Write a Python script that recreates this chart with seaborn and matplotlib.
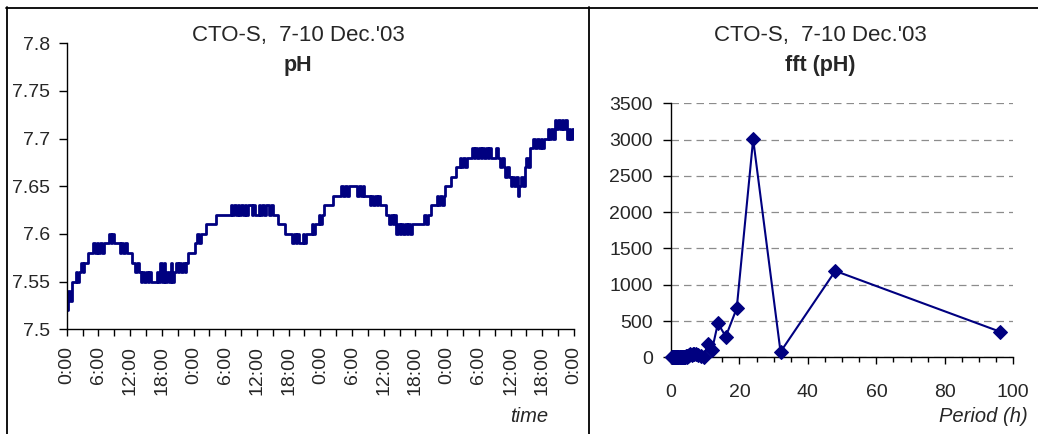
import numpy as np
import pandas as pd
import matplotlib
matplotlib.use("Agg")
import matplotlib.pyplot as plt
from matplotlib.lines import Line2D
from matplotlib.ticker import MultipleLocator, FuncFormatter
import seaborn as sns

# ---------------------------------------------------------------------------
# pH readings, every 20 minutes, in hundredths of a pH unit (752 -> 7.52)
# ---------------------------------------------------------------------------
ph_dec7 = [
    752, 754, 753, 755, 755, 756, 755, 756, 757, 756, 757, 757,
    758, 758, 758, 759, 758, 759, 758, 759, 758, 759, 759, 759,
    760, 759, 760, 759, 759, 759, 758, 759, 758, 759, 758, 758,
    758, 757, 757, 756, 757, 756, 755, 756, 755, 756, 755, 756,
    755, 755, 755, 756, 755, 757, 755, 757, 755, 756, 755, 757,
    755, 756, 757, 756, 757, 756, 757, 756, 757, 758, 758, 758,
]
ph_dec8 = [
    758, 759, 760, 759, 760, 760, 760, 761, 761, 761, 761, 761,
    761, 762, 762, 762, 762, 762, 762, 762, 762, 763, 762, 763,
    762, 763, 762, 763, 762, 763, 762, 763, 763, 762, 763, 762,
    762, 763, 762, 763, 762, 763, 763, 762, 763, 762, 762, 762,
    761, 761, 761, 761, 760, 760, 760, 760, 759, 760, 759, 760,
    759, 759, 760, 759, 760, 760, 760, 761, 760, 761, 761, 762,
]
ph_dec9 = [
    761, 762, 763, 763, 763, 763, 763, 764, 764, 764, 764, 764,
    765, 764, 765, 764, 765, 765, 765, 765, 765, 764, 765, 764,
    765, 764, 764, 764, 763, 764, 763, 764, 763, 764, 763, 763,
    763, 762, 762, 761, 762, 761, 762, 760, 761, 760, 761, 760,
    761, 760, 761, 760, 761, 761, 761, 761, 761, 761, 761, 762,
    761, 762, 762, 763, 763, 763, 764, 763, 764, 763, 764, 765,
]
ph_dec10 = [
    765, 765, 766, 766, 766, 767, 767, 768, 767, 768, 767, 768,
    768, 768, 769, 768, 769, 768, 769, 768, 769, 768, 769, 768,
    769, 768, 768, 768, 769, 768, 767, 768, 767, 766, 767, 766,
    765, 766, 765, 766, 764, 765, 766, 765, 767, 768, 767, 769,
    769, 770, 769, 770, 769, 770, 769, 770, 770, 771, 770, 771,
    770, 772, 771, 772, 771, 772, 771, 772, 770, 771, 770, 771,
]
ph_dec11 = [770]
sample_minutes = 20

time_tick_labels = ["0:00", "6:00", "12:00", "18:00"] * 4 + ["0:00"]
ph_tick_labels = ["7.5", "7.55", "7.6", "7.65", "7.7", "7.75", "7.8"]

# ---------------------------------------------------------------------------
# FFT of the pH record: amplitude against period (h)
# ---------------------------------------------------------------------------
fft_period_h = [96.0, 48.0, 32.0, 24.0, 19.2, 16.0, 13.71, 12.0, 10.67, 9.6,
                8.73, 8.0, 7.38, 6.86, 6.4, 6.0, 5.65, 5.33, 5.05, 4.8,
                4.57, 4.36, 4.17, 4.0, 3.84, 3.69, 3.56, 3.43, 3.31, 3.2,
                3.0, 2.82, 2.67, 2.53, 2.4, 2.18, 2.0, 1.85, 1.71, 1.6,
                1.45, 1.33, 1.2, 1.07, 0.96, 0.83, 0.71, 0.6, 0.48, 0.37, 0.25]
fft_power = [355, 1190, 75, 3005, 675, 285, 470, 105, 180, 8,
             15, 30, 45, 50, 40, 35, 45, 25, 20, 15,
             10, 12, 8, 10, 6, 5, 8, 4, 5, 3,
             4, 3, 2, 3, 2, 2, 1, 2, 1, 1,
             1, 1, 1, 1, 1, 1, 0, 0, 0, 0, 0]

title_line = "CTO-S,  7-10 Dec.'03"
navy = "#000080"

# ---------------------------------------------------------------------------
sns.set_theme(style="white")
plt.rcParams["font.family"] = ["Liberation Sans", "DejaVu Sans"]

W, H = 1038, 434
fig = plt.figure(figsize=(W / 100, H / 100), dpi=100)


def fx(px):
    return px / W


def fy(py):
    return 1 - py / H


ph_values = np.array(ph_dec7 + ph_dec8 + ph_dec9 + ph_dec10 + ph_dec11) / 100.0
hours = np.arange(len(ph_values)) * sample_minutes / 60.0
ph_df = pd.DataFrame({"hours": hours, "pH": ph_values})

fft_df = pd.DataFrame({"period": fft_period_h, "power": fft_power})

# ---- left panel: pH time series ----
ax1 = fig.add_axes([fx(66.7), fy(329.3), fx(574.0) - fx(66.7), fy(43.3) - fy(329.3)])
sns.lineplot(data=ph_df, x="hours", y="pH", ax=ax1, color=navy,
             linewidth=2.0, drawstyle="steps-post", estimator=None)
ax1.set_xlim(0, 96)
ax1.set_ylim(7.5, 7.8)
ax1.set_xticks(np.arange(0, 97, 6))
ax1.set_xticklabels(time_tick_labels, rotation=90)
ax1.xaxis.set_minor_locator(MultipleLocator(3))
ax1.set_yticks(np.linspace(7.5, 7.8, 7))
ax1.set_yticklabels(ph_tick_labels)
ax1.set_xlabel("")
ax1.set_ylabel("")
ax1.tick_params(axis="x", which="both", direction="out", length=5, width=1,
                color="black", labelsize=14, pad=7, bottom=True)
ax1.tick_params(axis="y", which="both", direction="out", length=6, width=1,
                color="black", labelsize=14, pad=6, left=True)
for side in ("top", "right"):
    ax1.spines[side].set_visible(False)
for side in ("left", "bottom"):
    ax1.spines[side].set_color("black")
    ax1.spines[side].set_linewidth(1.0)

# ---- right panel: FFT spectrum ----
ax2 = fig.add_axes([fx(671.0), fy(357.3), fx(1013.3) - fx(671.0), fy(103.3) - fy(357.3)])
ax2.set_axisbelow(True)
ax2.yaxis.grid(True, linestyle=(0, (6, 4)), color="#8c8c8c", linewidth=0.9)
sns.lineplot(data=fft_df, x="period", y="power", ax=ax2, color=navy,
             linewidth=1.5, marker="D", markersize=7, markeredgecolor=navy,
             markerfacecolor=navy, clip_on=False, zorder=3, estimator=None)
ax2.set_xlim(0, 100)
ax2.set_ylim(0, 3500)
ax2.set_xticks(np.arange(0, 101, 20))
ax2.xaxis.set_minor_locator(MultipleLocator(5))
ax2.set_yticks(np.arange(0, 3501, 500))
ax2.yaxis.set_major_formatter(FuncFormatter(lambda v, _: f"{v:.0f}"))
ax2.set_xlabel("")
ax2.set_ylabel("")
ax2.tick_params(axis="x", which="major", direction="out", length=5, width=1,
                color="black", labelsize=14, pad=14, bottom=True)
ax2.tick_params(axis="x", which="minor", direction="out", length=3.5, width=1,
                color="black", bottom=True)
ax2.tick_params(axis="y", which="major", direction="out", length=6, width=1,
                color="black", labelsize=14, pad=7, left=True)
for side in ("top", "right"):
    ax2.spines[side].set_visible(False)
for side in ("left", "bottom"):
    ax2.spines[side].set_color("black")
    ax2.spines[side].set_linewidth(1.0)

# ---- titles and axis captions ----
fig.text(fx(298), fy(35), title_line, ha="center", va="center", fontsize=16)
fig.text(fx(298), fy(66), "pH", ha="center", va="center", fontsize=15.5,
         fontweight="bold")
fig.text(fx(820), fy(35), title_line, ha="center", va="center", fontsize=16)
fig.text(fx(820), fy(66), "fft (pH)", ha="center", va="center", fontsize=15.5,
         fontweight="bold")
fig.text(fx(548), fy(416), "time", ha="right", va="center", fontsize=14.5,
         style="italic")
fig.text(fx(1028), fy(417), "Period (h)", ha="right", va="center",
         fontsize=14.5, style="italic")

# ---- chart-area frames ----
frame_kw = dict(transform=fig.transFigure, color="black", linewidth=1.3)
fig.add_artist(Line2D([fx(6), fx(W)], [fy(7.5), fy(7.5)], **frame_kw))
fig.add_artist(Line2D([fx(6.5), fx(6.5)], [fy(7), fy(H)], **frame_kw))
fig.add_artist(Line2D([fx(589), fx(589)], [fy(7), fy(H)], **frame_kw))

fig.savefig("out.png", dpi=100, facecolor="white")
